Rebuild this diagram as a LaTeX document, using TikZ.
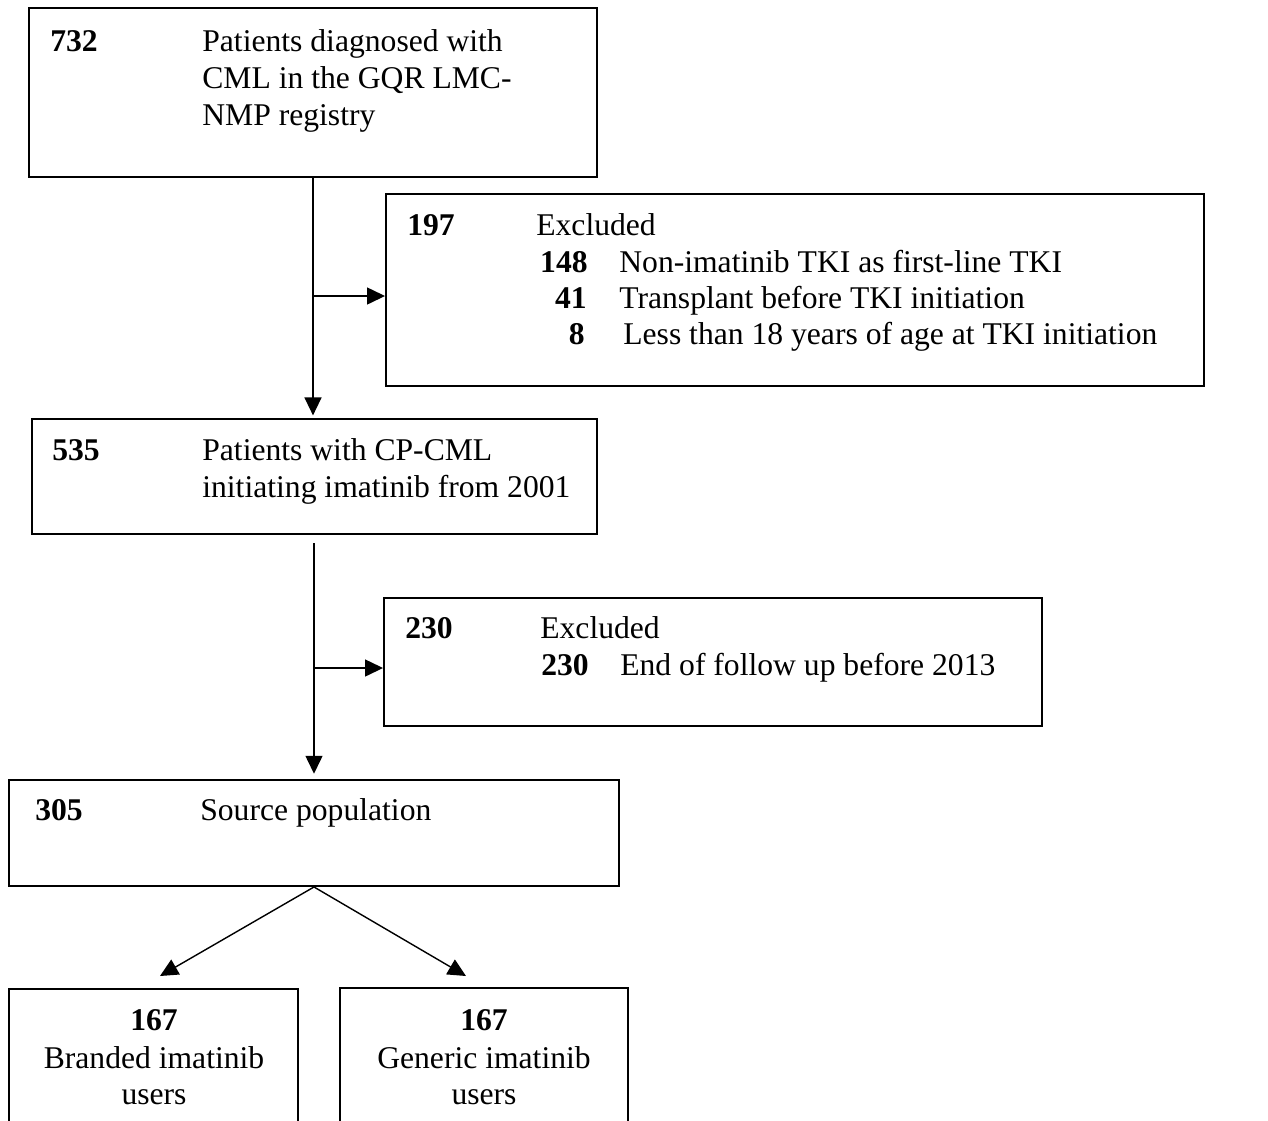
\documentclass[tikz,border=0pt]{standalone}
\usepackage{fontspec}
\setmainfont{Liberation Serif}
\usetikzlibrary{arrows.meta,fit}
\tikzset{
    box/.style={draw, line width=1.1pt, inner sep=0pt},
    arr/.style={line width=0.8pt, -{Triangle[length=0.36cm,width=0.34cm]}},
    txt/.style={anchor=base west, inner sep=0pt, font=\fontsize{18}{21}\selectfont},
    num/.style={txt, font=\fontsize{18}{21}\selectfont\bfseries},
}

\begin{document}
\begin{tikzpicture}[x=0.02cm, y=-0.02cm]
    \useasboundingbox (0,0) rectangle (1268,1120);
    % boxes
    \node[box, fit={(29,8) (597,177)}] (reg) {};
    \node[box, fit={(386,194) (1204,386)}] (exc1) {};
    \node[box, fit={(32,419) (597,534)}] (cp) {};
    \node[box, fit={(384,598) (1042,726)}] (exc2) {};
    \node[box, fit={(9,780) (619,886)}] (src) {};
    \node[box, fit={(9,989) (298,1140)}] (brand) {};
    \node[box, fit={(340,988) (628,1140)}] (gen) {};
    % registry
    \node[num] (reg-n) at (50,51) {732};
    \node[txt] (reg-a) at (202,51) {Patients diagnosed with};
    \node[txt] (reg-b) at (202,88) {CML in the GQR LMC-};
    \node[txt] (reg-c) at (202,125) {NMP registry};
    % first exclusion
    \node[num] (exc1-n) at (407,235) {197};
    \node[txt] (exc1-t) at (536,235) {Excluded};
    \node[num, anchor=base east] (exc1-n1) at (588,272) {148};
    \node[txt] (exc1-t1) at (619,272) {Non-imatinib TKI as first-line TKI};
    \node[num, anchor=base east] (exc1-n2) at (587,308) {41};
    \node[txt] (exc1-t2) at (619,308) {Transplant before TKI initiation};
    \node[num, anchor=base east] (exc1-n3) at (585,344) {8};
    \node[txt] (exc1-t3) at (623,344) {Less than 18 years of age at TKI initiation};
    % chronic phase
    \node[num] (cp-n) at (52,460) {535};
    \node[txt] (cp-a) at (202,460) {Patients with CP-CML};
    \node[txt] (cp-b) at (202,497) {initiating imatinib from 2001};
    % second exclusion
    \node[num] (exc2-n) at (405,638) {230};
    \node[txt] (exc2-t) at (540,638) {Excluded};
    \node[num] (exc2-n1) at (541,675) {230};
    \node[txt] (exc2-t1) at (620,675) {End of follow up before 2013};
    % source population
    \node[num] (src-n) at (35,820) {305};
    \node[txt] (src-t) at (200,820) {Source population};
    % the two groups
    \node[num, anchor=base] (brand-n) at (154,1030) {167};
    \node[txt, anchor=base] (brand-a) at (154,1068) {Branded imatinib};
    \node[txt, anchor=base] (brand-b) at (154,1104) {users};
    \node[num, anchor=base] (gen-n) at (484,1030) {167};
    \node[txt, anchor=base] (gen-a) at (484,1068) {Generic imatinib};
    \node[txt, anchor=base] (gen-b) at (484,1104) {users};
    % connectors
    \coordinate (j1) at (313,296);
    \coordinate (s2) at (314,543);
    \coordinate (j2) at (314,668);
    \coordinate (tipL) at (160,976);
    \coordinate (tipR) at (466,976);
    \draw[arr, shorten >=1.5pt] (reg.south) -- (reg.south |- cp.north);
    \draw[arr] (j1) -- (j1 -| exc1.west);
    \draw[arr, shorten >=3pt] (s2) -- (s2 |- src.north);
    \draw[arr] (j2) -- (j2 -| exc2.west);
    \draw[arr] (src.south) -- (tipL);
    \draw[arr] (src.south) -- (tipR);
\end{tikzpicture}
\end{document}
